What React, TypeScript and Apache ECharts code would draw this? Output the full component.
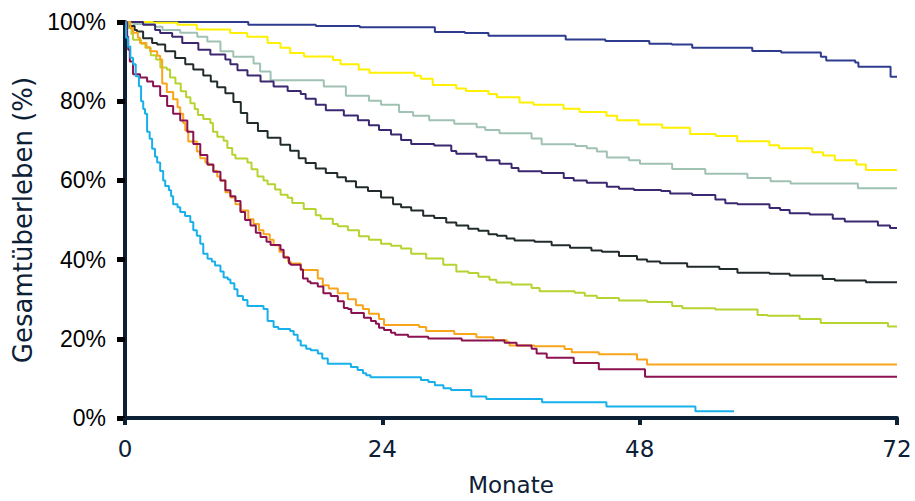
import React, { useEffect, useRef } from "react";
import * as echarts from "echarts";

// Kaplan–Meier curves: [Monate, Gesamtüberleben %]
const xTicks = [0, 24, 48, 72];
const yTickStep = 20;

const curveBlue: number[][] = [[0,100],[11.5,99.3],[17.8,99.0],[21.9,98.7],[28.9,97.5],[31.7,97.2],[33.9,96.5],[41.1,95.6],[44.8,95.2],[48.9,94.5],[51.0,94.3],[52.9,93.5],[58.5,92.7],[61.2,92.3],[64.9,91.2],[65.4,90.3],[68.1,89.8],[68.4,88.7],[71.4,86.2],[72,86.2]];

const curveYellow: number[][] = [[0,100],[2.6,99.8],[4.9,99.3],[6.7,98.1],[9.8,97.2],[11.4,96.3],[13.3,94.7],[14.5,93.5],[15.4,92.2],[16.7,91.3],[19.4,90.4],[20.1,89.3],[21.8,88.0],[22.8,87.2],[27.0,86.4],[27.6,85.7],[28.7,84.1],[30.9,83.2],[31.8,82.6],[33.9,81.8],[34.7,81.0],[36.8,79.7],[38.1,79.1],[40.9,78.1],[42.4,77.3],[44.9,76.3],[45.9,75.2],[47.9,74.1],[50.1,73.3],[52.7,71.7],[55.1,71.2],[57.1,69.9],[60.1,68.9],[61.0,68.1],[64.1,67.1],[65.1,66.3],[66.2,65.1],[68.2,64.0],[69.1,62.6],[72,62.6]];

const curveGrey: number[][] = [[0,100],[0.75,99.5],[2.8,98.8],[3.5,98.0],[5.15,97.3],[6.74,96.3],[7.68,95.1],[8.9,92.6],[10.1,91.2],[11.99,89.5],[12.6,87.5],[13.58,85.3],[18.54,83.7],[20.6,81.4],[22.75,80.1],[23.88,79.1],[25.56,77.3],[26.87,76.3],[28.37,75.2],[30.71,74.3],[32.8,73.4],[33.6,72.7],[34.93,71.9],[37.92,70.6],[38.86,69.1],[42.0,68.7],[43.07,68.1],[44.01,67.3],[44.94,65.8],[47.0,65.1],[48.03,64.2],[51.03,62.9],[54.12,61.7],[58.05,60.6],[60.21,59.8],[62.08,59.2],[68.35,58.0],[72,58.0]];

const curvePurple: number[][] = [[0,100],[1.69,99.3],[2.81,98.0],[3.28,97.2],[4.4,96.3],[5.34,94.7],[6.84,93.0],[7.96,91.8],[9.36,90.5],[9.83,89.3],[10.49,87.8],[11.42,86.5],[12.64,85.0],[13.86,83.7],[15.17,82.6],[16.39,81.8],[16.85,80.6],[17.79,79.1],[18.73,77.7],[20.41,76.4],[21.72,75.2],[22.75,73.9],[23.69,72.7],[24.81,71.6],[25.75,70.2],[26.69,69.2],[28.84,68.8],[30.43,67.4],[30.9,66.7],[32.77,66.0],[33.71,65.1],[34.93,64.2],[36.05,63.1],[36.7,62.3],[38.86,61.9],[40.92,60.6],[41.85,60.0],[43.07,59.4],[44.94,58.4],[46.07,57.9],[47.47,57.6],[50.0,57.3],[50.84,56.7],[52.9,56.3],[55.06,55.2],[55.99,54.2],[57.12,54.0],[60.11,53.0],[61.1,52.5],[61.99,51.7],[63.86,51.4],[66.01,50.3],[67.13,49.6],[70.22,48.6],[71.35,48.0],[72,48.0]];

const curveBlack: number[][] = [[0,100],[0.3,99.0],[0.9,98.0],[1.12,97.6],[1.69,95.9],[2.53,94.7],[3.0,94.3],[3.75,92.6],[4.68,90.9],[5.62,89.3],[6.37,88.0],[7.3,86.5],[8.0,85.0],[8.6,83.5],[9.36,82.0],[10.11,79.8],[10.8,77.0],[11.4,74.5],[12.4,72.5],[13.3,70.8],[14.5,69.0],[15.4,67.5],[16.2,65.6],[16.85,64.4],[17.79,63.0],[18.73,61.9],[19.8,60.8],[20.6,59.8],[21.54,58.3],[22.66,57.3],[23.88,55.7],[25.0,54.0],[25.75,53.2],[26.69,52.4],[27.81,51.1],[28.84,50.5],[29.96,49.4],[30.9,48.6],[32.02,47.8],[32.96,47.3],[33.9,46.4],[34.7,46.0],[35.58,45.3],[36.33,44.8],[38.2,44.5],[39.79,43.6],[41.5,43.0],[43.5,42.3],[44.48,42.0],[46.07,40.9],[47.75,40.0],[48.69,39.5],[49.91,39.1],[52.43,38.2],[55.43,37.6],[57.12,36.7],[60.11,36.4],[61.99,36.0],[65.07,35.1],[66.2,34.7],[69.1,34.3],[72,34.3]];

const curveLime: number[][] = [[0,100],[0.3,98.5],[0.6,97.0],[0.75,95.5],[1.5,94.5],[1.9,93.5],[2.4,91.6],[2.9,90.5],[3.3,88.5],[3.9,88.0],[4.2,86.0],[4.7,84.5],[5.2,82.5],[5.7,81.0],[6.1,79.5],[6.5,78.0],[6.8,76.5],[7.3,75.5],[7.96,74.5],[8.2,72.3],[8.61,71.0],[9.2,70.0],[9.55,68.2],[10.0,66.5],[10.3,65.5],[11.42,64.5],[11.8,62.8],[12.36,61.0],[12.92,60.0],[13.3,59.0],[14.0,57.7],[14.51,56.4],[15.17,55.6],[15.6,54.3],[16.67,52.8],[17.79,51.2],[18.26,50.3],[19.38,49.0],[19.85,48.4],[20.79,47.4],[21.82,45.9],[22.75,45.0],[23.88,44.0],[24.81,43.5],[25.75,42.8],[26.69,41.5],[28.09,40.3],[29.68,38.7],[30.9,37.0],[32.02,36.6],[32.96,35.7],[33.99,34.9],[34.64,34.2],[36.05,33.7],[37.92,32.8],[38.67,32.0],[41.95,31.6],[42.88,30.9],[44.01,30.3],[46.07,29.7],[48.69,29.3],[51.03,28.3],[51.97,27.7],[55.06,27.4],[58.99,26.0],[59.93,25.8],[62.92,25.0],[64.89,24.0],[71.16,23.1],[72,23.1]];

const curveOrange: number[][] = [[0,100],[0.5,98.5],[0.75,97.3],[1.2,96.0],[1.4,94.7],[2.0,93.6],[2.34,92.6],[3.0,91.5],[3.28,90.5],[3.47,84.5],[3.9,82.3],[4.49,80.5],[4.9,78.5],[5.15,76.8],[5.43,74.5],[5.62,72.6],[5.9,69.8],[6.7,67.3],[7.02,65.6],[7.5,64.5],[7.77,63.9],[8.24,62.4],[8.6,61.0],[8.9,60.0],[9.36,57.0],[9.83,55.7],[10.3,54.0],[10.77,52.4],[11.5,50.2],[11.99,49.0],[12.5,47.4],[12.92,46.4],[13.5,45.0],[13.86,43.6],[14.4,42.0],[14.79,40.7],[15.2,39.5],[15.45,39.0],[16.39,37.4],[17.98,35.2],[18.45,33.5],[19.01,32.7],[19.85,31.5],[20.79,30.0],[21.54,28.5],[22.19,27.5],[22.75,26.3],[23.69,25.0],[24.16,23.5],[27.43,23.0],[28.09,22.0],[30.71,21.2],[32.77,20.4],[34.36,19.7],[35.6,19.1],[35.86,18.3],[38.2,18.1],[41.0,17.4],[41.67,16.6],[44.19,16.1],[47.75,14.8],[48.69,13.5],[72,13.5]];

const curveMaroon: number[][] = [[0,100],[0.2,96.3],[0.3,93.0],[0.45,90.0],[0.75,86.8],[1.4,86.0],[2.06,85.0],[2.62,83.8],[3.28,81.3],[3.93,78.8],[4.49,76.8],[5.15,75.1],[5.81,72.3],[6.37,69.2],[7.02,66.4],[7.68,64.0],[8.24,62.2],[8.9,60.0],[9.36,57.5],[9.83,56.0],[10.3,54.8],[10.77,52.0],[11.2,50.0],[11.7,48.6],[12.2,46.8],[12.64,45.7],[13.2,44.5],[13.58,43.7],[14.5,42.5],[14.79,40.5],[15.3,39.0],[15.45,38.7],[16.39,37.5],[16.6,35.2],[17.04,34.5],[17.3,34.0],[17.98,33.2],[18.5,31.5],[19.19,30.8],[19.85,29.5],[20.41,27.8],[20.8,27.5],[21.1,26.5],[22.28,25.3],[22.94,24.5],[23.4,23.8],[23.69,22.8],[24.16,22.2],[24.81,21.5],[25.2,21.0],[26.4,20.5],[28.28,20.1],[31.4,19.6],[35.4,19.0],[36.52,18.3],[37.92,17.5],[38.39,16.3],[39.33,15.2],[41.85,13.9],[44.19,12.3],[48.5,10.4],[72,10.4]];

const curveCyan: number[][] = [[0,100],[0.1,96.0],[0.28,93.8],[0.5,91.0],[0.75,89.3],[1.0,86.3],[1.3,83.8],[1.5,80.0],[1.7,78.0],[1.87,76.8],[2.06,72.3],[2.3,70.5],[2.53,68.0],[2.8,66.0],[3.0,64.5],[3.28,62.4],[3.56,60.0],[3.75,58.6],[4.1,57.5],[4.3,56.0],[4.49,54.0],[4.9,53.2],[5.15,52.0],[5.6,51.0],[6.09,49.5],[6.37,47.4],[6.7,46.0],[7.02,44.0],[7.3,41.5],[7.7,40.2],[8.1,39.5],[8.4,38.5],[8.9,37.0],[9.2,35.5],[9.6,35.0],[9.83,34.0],[10.2,32.5],[10.49,30.8],[11.0,29.8],[11.42,28.3],[12.92,27.5],[13.3,24.5],[13.86,23.0],[14.3,22.5],[15.4,22.0],[15.73,21.0],[16.1,19.6],[16.39,18.3],[16.9,17.5],[17.32,17.1],[17.98,16.3],[18.4,15.0],[18.91,13.7],[21.07,12.9],[21.7,12.1],[22.2,11.3],[22.5,10.8],[22.9,10.3],[27.6,9.6],[28.3,9.1],[28.9,8.3],[29.7,7.5],[30.4,7.1],[32.3,5.4],[33.7,4.8],[38.9,4.0],[44.9,2.9],[53.2,1.7],[56.8,1.7]];

const seriesDefs = [
  { name: "Kurve 1", data: curveBlue, color: "#2d3c8e" },
  { name: "Kurve 2", data: curveYellow, color: "#fff000" },
  { name: "Kurve 3", data: curveGrey, color: "#a0c2b3" },
  { name: "Kurve 4", data: curvePurple, color: "#3b2870" },
  { name: "Kurve 5", data: curveBlack, color: "#222b2c" },
  { name: "Kurve 6", data: curveLime, color: "#b6d431" },
  { name: "Kurve 7", data: curveOrange, color: "#f9a51b" },
  { name: "Kurve 8", data: curveMaroon, color: "#8a1250" },
  { name: "Kurve 9", data: curveCyan, color: "#18b0ea" },
];

const NAVY = "#0c2036";

export default function App() {
  const ref = useRef<HTMLDivElement>(null);
  useEffect(() => {
    if (!ref.current) return;
    const chart = echarts.init(ref.current, undefined, { renderer: "svg" });
    chart.setOption({
      animation: false,
      backgroundColor: "#ffffff",
      grid: { left: 125, right: 18, top: 22, bottom: 77, containLabel: false },
      xAxis: {
        type: "value",
        min: xTicks[0],
        max: xTicks[xTicks.length - 1],
        interval: 24,
        name: "Monate",
        nameLocation: "middle",
        nameGap: 55,
        nameTextStyle: { fontFamily: "DejaVu Sans", fontSize: 23, color: NAVY },
        axisLine: { show: true, lineStyle: { color: NAVY, width: 4 } },
        axisTick: { show: true, length: 7, lineStyle: { color: NAVY, width: 4 } },
        axisLabel: { fontFamily: "DejaVu Sans", fontSize: 23, color: NAVY, margin: 19 },
        splitLine: { show: false },
      },
      yAxis: {
        type: "value",
        min: 0,
        max: 100,
        interval: yTickStep,
        name: "Gesamtüberleben (%)",
        nameLocation: "middle",
        nameRotate: 90,
        nameGap: 89,
        nameTextStyle: { fontFamily: "DejaVu Sans", fontSize: 26, color: NAVY },
        axisLine: { show: true, lineStyle: { color: NAVY, width: 4 } },
        axisTick: { show: true, length: 8, lineStyle: { color: "#000000", width: 5 } },
        axisLabel: {
          formatter: "{value}%",
          fontFamily: "Liberation Sans",
          fontSize: 23,
          color: "#000000",
          margin: 19,
        },
        splitLine: { show: false },
      },
      series: seriesDefs.map((s) => ({
        name: s.name,
        type: "line",
        step: "end",
        showSymbol: false,
        symbol: "none",
        data: s.data,
        lineStyle: { color: s.color, width: 2 },
        itemStyle: { color: s.color },
        z: 2,
      })),
    });
    return () => chart.dispose();
  }, []);
  return (
    <div
      ref={ref}
      style={{ position: "fixed", left: 0, top: 0, width: 915, height: 501, background: "#fff" }}
    />
  );
}
